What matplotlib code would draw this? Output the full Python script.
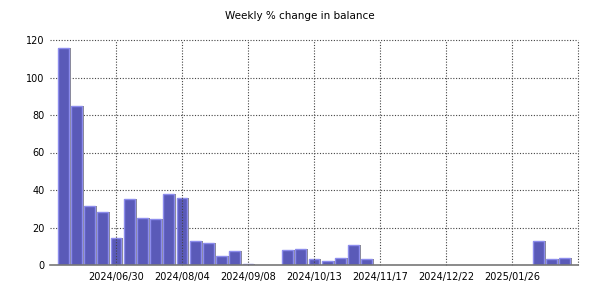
import numpy as np
import pandas as pd
import matplotlib
matplotlib.use("Agg")
import matplotlib.pyplot as plt
import matplotlib.dates as mdates

# weekly % change, one value per week starting 2024/06/02
first_week = "2024-06-02"
values = [116, 85, 31.6, 28.4, 14.4, 35.3, 25.2, 24.6, 37.9, 35.8,
          12.9, 11.9, 5.0, 7.6, 0.7, 0, 0, 8.2, 8.7, 3.4,
          2.0, 3.9, 10.8, 3.4, 0, 0, 0, 0, 0, 0,
          0, 0, 0, 0, 0, 0, 12.6, 3.4, 3.9]
tick_dates = ["2024-06-30", "2024-08-04", "2024-09-08", "2024-10-13",
              "2024-11-17", "2024-12-22", "2025-01-26", "2025-03-02"]
tick_labels = ["2024/06/30", "2024/08/04", "2024/09/08", "2024/10/13",
               "2024/11/17", "2024/12/22", "2025/01/26", ""]
title = "Weekly % change in balance"

weeks = pd.date_range(first_week, periods=len(values), freq="7D")
x = mdates.date2num(weeks)
vals = np.array(values)
mask = vals > 0

fig = plt.figure(figsize=(6, 3), dpi=100)
ax = fig.add_axes([50 / 600, 35 / 300, 528 / 600, 225 / 300])

w = 5.8
# shadow
ax.bar(x[mask] + 1.0, vals[mask], width=w, color="#8a8a8a", zorder=2)
ax.bar(x[mask], vals[mask], width=w, facecolor="#5a5ab8", edgecolor="#8c8cec",
       linewidth=1, zorder=3)

ax.set_xlim(mdates.date2num(pd.Timestamp("2024-05-26")), mdates.date2num(pd.Timestamp("2025-03-02")))
ax.set_ylim(0, 120)
ax.set_yticks([0, 20, 40, 60, 80, 100, 120])
ax.set_xticks(mdates.date2num(pd.to_datetime(tick_dates)))
ax.set_xticklabels(tick_labels)

for yv in [20, 40, 60, 80, 100, 120]:
    ax.axhline(yv, color="#444444", linestyle=(0, (1, 1.5)), linewidth=0.8, zorder=1, clip_on=False)
for xv in mdates.date2num(pd.to_datetime(tick_dates)):
    ax.axvline(xv, color="#444444", linestyle=(0, (1, 1.5)), linewidth=0.8, zorder=4, clip_on=False)

for s in ["top", "right", "left"]:
    ax.spines[s].set_visible(False)
ax.spines["bottom"].set_color("#777777")
ax.spines["bottom"].set_linewidth(1.2)
ax.spines["bottom"].set_zorder(5)
ax.tick_params(length=0, labelsize=7, colors="#000000")
ax.tick_params(axis="y", pad=4)
ax.tick_params(axis="x", pad=5)

fig.text(0.5, 1 - 16 / 300, title, ha="center", va="center", fontsize=7.5)

fig.savefig("out.png", dpi=100)
